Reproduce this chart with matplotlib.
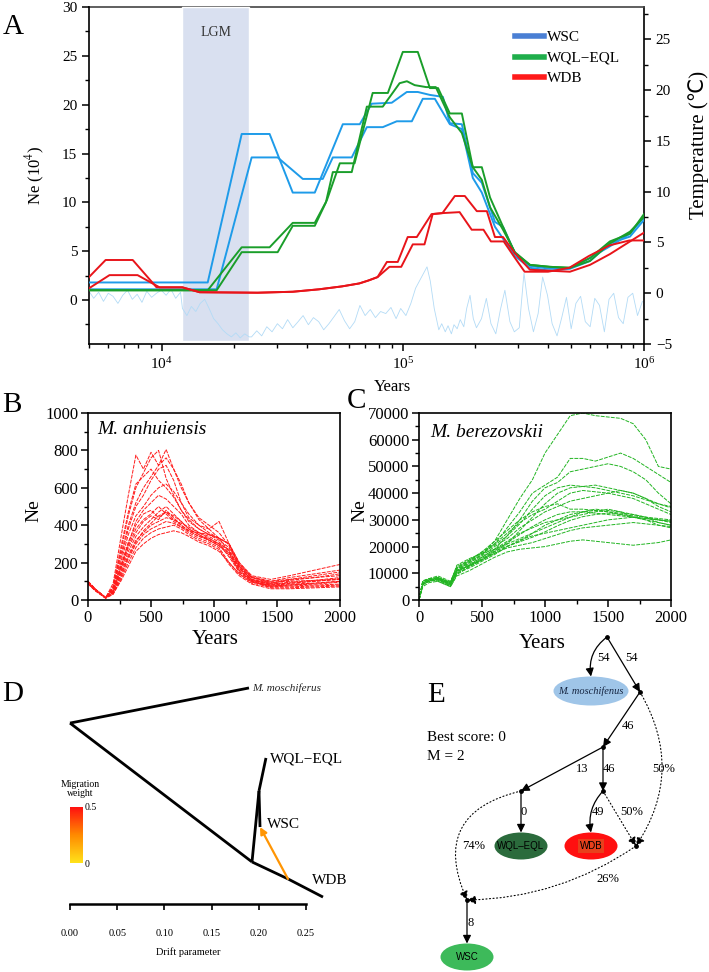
import numpy as np
import matplotlib
matplotlib.use('Agg')
import matplotlib.pyplot as plt
from matplotlib.lines import Line2D
from matplotlib.patches import Ellipse, FancyArrowPatch, Rectangle
from matplotlib.colors import LinearSegmentedColormap, Normalize
from matplotlib.cm import ScalarMappable
from matplotlib.ticker import MultipleLocator, FormatStrFormatter, LogLocator, NullFormatter

plt.rcParams['font.family'] = ['Liberation Serif', 'DejaVu Sans']
plt.rcParams['mathtext.fontset'] = 'stix'

# ---------------- panel A data (PSMC, years vs Ne x 10^4) ----------------
wsc_a_years = [5000, 15530, 21480, 28040, 34970, 43160, 56400, 66310, 74340, 90000, 103900, 115400, 129500, 146600,
               156700, 175700, 195100, 212600, 241000, 260300, 291600, 336600, 407000, 493000, 597000, 722000, 875000, 1000000]
wsc_a_ne = [1.8, 1.8, 17.0, 17.0, 11.0, 11.0, 18.0, 18.0, 20.1, 20.2, 21.3, 21.3, 21.0, 20.8,
            18.1, 18.0, 13.0, 12.0, 8.0, 7.5, 4.8, 3.5, 3.2, 3.3, 4.3, 5.5, 6.8, 8.5]
wsc_b_years = [5000, 16910, 23620, 30280, 38490, 46580, 51270, 61420, 70940, 82600, 94400, 109000, 121000, 135800,
               156700, 175700, 195100, 212600, 241000, 291600, 336600, 407000, 493000, 597000, 722000, 875000, 1000000]
wsc_b_ne = [1.1, 1.1, 14.6, 14.6, 12.4, 12.4, 14.6, 14.6, 17.7, 17.7, 18.3, 18.3, 20.6, 20.6,
            18.0, 17.5, 12.5, 11.0, 7.5, 4.5, 3.3, 3.0, 3.2, 4.0, 5.8, 6.5, 8.2]
wql_a_years = [5000, 15530, 21480, 28040, 34970, 43160, 48400, 54800, 63100, 75000, 86700, 100000, 115400, 129500,
               140000, 156700, 175700, 195100, 212600, 230000, 260300, 291600, 336600, 407000, 493000, 597000,
               722000, 875000, 1000000]
wql_a_ne = [1.0, 1.0, 5.4, 5.4, 7.9, 7.9, 10.2, 14.0, 14.0, 21.2, 21.2, 25.4, 25.4, 21.7,
            21.7, 19.1, 19.1, 13.6, 13.6, 10.5, 7.5, 4.8, 3.6, 3.4, 3.3, 4.3, 6.0, 6.8, 8.8]
wql_b_years = [5000, 16910, 21480, 30280, 34970, 43160, 48000, 51270, 61420, 70940, 82600, 97000, 104000, 112000,
               125000, 137000, 156700, 175700, 195100, 212600, 230000, 260300, 291600, 336600, 407000, 493000,
               597000, 722000, 875000, 1000000]
wql_b_ne = [1.0, 1.0, 4.9, 4.9, 7.6, 7.6, 10.0, 13.1, 13.1, 19.8, 19.8, 22.2, 22.4, 22.0,
            21.8, 21.8, 18.7, 17.1, 13.6, 12.3, 9.5, 7.2, 4.9, 3.6, 3.4, 3.3, 4.0, 5.8, 7.0, 8.5]
wdb_a_years = [5000, 5860, 7590, 9530, 12200, 14380, 25000, 35000, 45000, 56000, 66000, 72000, 78600, 85900,
               95300, 104800, 114300, 131600, 146000, 164300, 180800, 202700, 223100, 241000, 260300, 291600,
               336600, 407000, 493000, 597000, 722000, 875000, 1000000]
wdb_a_ne = [2.35, 4.1, 4.1, 1.3, 1.3, 0.8, 0.75, 0.85, 1.1, 1.4, 1.7, 2.0, 2.35, 3.9,
            3.9, 6.45, 6.45, 8.8, 8.9, 10.65, 10.65, 9.1, 9.1, 6.45, 6.45, 4.8, 3.1, 3.0, 2.9, 3.6, 4.7, 6.0, 6.9]
wdb_b_years = [5000, 6080, 7950, 9810, 12200, 14380, 25000, 35000, 45000, 56000, 66000, 72000, 78600, 88000,
               98500, 110000, 123000, 133000, 146000, 172000, 193000, 216000, 232000, 262000, 290000, 320000,
               400000, 490000, 590000, 720000, 870000, 1000000]
wdb_b_ne = [1.2, 2.55, 2.55, 1.3, 1.3, 0.8, 0.75, 0.85, 1.1, 1.4, 1.7, 2.0, 2.35, 3.4,
            3.4, 5.7, 5.7, 8.8, 8.9, 9.0, 7.2, 7.2, 6.0, 6.0, 4.4, 2.9, 2.9, 3.3, 4.5, 5.6, 6.1, 6.1]

# surface temperature (right axis)
temp_years = [5000, 5230, 5480, 5740, 6010, 6290, 6590, 6900, 7220, 7560, 7920, 8290, 8680, 9090, 9520, 9970,
              10440, 10930, 11440, 11980,
              12200, 12730, 13280, 13860, 14460, 15090, 15740, 16430, 17140, 17880, 18660, 19470, 20310, 21190,
              22110, 23070,
              23600, 24800, 26000, 27300, 28700, 30200, 31700, 33300, 35000, 36800, 38600, 40600, 42600, 44800,
              47000, 49400, 51900, 54500, 57300, 60200, 63200, 66400, 69800, 73300, 77000, 80900, 85000, 89300, 93800,
              98000, 103000, 108000, 113000, 119000, 126000, 130000, 135000, 141000,
              145000, 150000, 154000, 159000, 163000, 168000, 173000, 179000, 184000, 190000, 196000, 202000,
              212000, 222000, 232000, 243000, 254000, 265000, 278000, 290000, 304000, 318000, 332000, 348000, 364000,
              380000, 398000, 416000, 436000, 456000, 477000, 499000, 522000, 546000, 571000, 598000, 625000, 654000,
              685000, 716000, 749000, 784000, 820000, 858000, 898000, 940000, 985000]
temp_c = [0.2, -0.5, 0.1, -0.8, 0.0, -0.3, -1.0, -0.2, 0.3, -0.6, -0.1, -0.9, 0.2, -0.4, 0.0, 0.3,
          -0.2, 0.4, -0.5, 0.1,
          -1.5, -2.2, -1.3, -1.8, -1.0, -0.6, -1.5, -2.5, -3.0, -3.6, -4.0, -4.3, -3.9, -4.4, -4.0, -4.3,
          -4.3, -3.7, -4.2, -3.3, -3.8, -3.0, -3.5, -2.6, -3.4, -2.8, -2.2, -3.1, -2.4, -2.8,
          -3.6, -3.0, -2.3, -1.6, -2.7, -3.5, -2.8, -1.2, -2.2, -1.6, -2.4, -1.8, -2.0, -1.4, -2.5,
          -1.5, -2.2, -1.0, 0.5, 1.5, 2.6, 1.2, -1.5, -3.6,
          -3.0, -3.8, -3.2, -4.0, -3.1, -3.5, -2.6, -3.3, -1.5, -0.2, -2.5, -3.4,
          -2.5, -0.5, -3.0, -4.0, -1.6, 0.3, -2.8, -3.8, -3.4, 2.0, -1.5, -3.8, -2.0,
          1.6, -0.2, -3.0, -4.2, -2.4, -0.4, -3.5, -1.0, -0.3, -2.8, -3.3, -0.5, -1.2,
          -3.8, -0.6, 0.0, -2.4, -3.0, -0.4, 0.0, -2.2, -0.8]
lgm = (12200, 23100)

# ---------------- panel B / C data ----------------
b_years = [0, 60, 140, 200, 260, 320, 380, 440, 500, 560, 620, 680, 740, 800, 880, 960, 1040, 1120, 1200,
           1300, 1450, 1600, 1800, 2000]
b_ne = [
    [98, 55, 12, 90, 330, 560, 775, 700, 790, 720, 805, 700, 600, 520, 430, 380, 330, 260, 180, 120, 100, 120, 140, 160],
    [92, 52, 10, 70, 260, 450, 600, 680, 760, 800, 650, 560, 480, 420, 380, 350, 320, 280, 190, 120, 90, 110, 130, 150],
    [100, 58, 14, 60, 220, 380, 500, 560, 640, 700, 720, 640, 520, 440, 400, 360, 330, 300, 200, 130, 110, 130, 160, 190],
    [88, 50, 11, 50, 180, 300, 420, 480, 520, 560, 540, 500, 460, 400, 360, 330, 300, 250, 170, 110, 80, 85, 90, 100],
    [95, 54, 12, 40, 150, 260, 340, 390, 430, 470, 500, 460, 420, 380, 350, 320, 290, 240, 160, 100, 75, 80, 85, 95],
    [90, 50, 10, 45, 160, 280, 360, 420, 450, 430, 480, 440, 400, 370, 340, 320, 300, 230, 150, 100, 70, 70, 75, 80],
    [96, 56, 13, 35, 120, 220, 300, 350, 380, 400, 420, 410, 390, 360, 330, 310, 280, 200, 140, 95, 80, 90, 100, 115],
    [85, 48, 10, 30, 110, 200, 280, 330, 360, 380, 390, 400, 380, 350, 320, 300, 270, 190, 130, 85, 60, 60, 65, 70],
    [100, 57, 12, 55, 200, 350, 450, 500, 560, 600, 620, 580, 520, 460, 400, 380, 420, 300, 190, 120, 95, 100, 105, 110],
    [93, 53, 11, 40, 140, 240, 320, 360, 400, 420, 440, 430, 410, 390, 360, 350, 330, 300, 180, 105, 85, 95, 105, 120],
    [90, 51, 10, 35, 100, 180, 260, 300, 330, 350, 360, 370, 360, 340, 310, 290, 260, 200, 140, 90, 70, 75, 80, 85],
    [97, 55, 12, 65, 240, 400, 520, 600, 660, 720, 760, 700, 620, 520, 440, 400, 360, 290, 180, 110, 90, 105, 120, 140],
    [89, 50, 11, 50, 170, 290, 380, 430, 460, 500, 460, 420, 390, 370, 360, 340, 310, 260, 160, 105, 75, 80, 90, 100],
    [94, 53, 12, 45, 180, 310, 400, 460, 480, 440, 470, 430, 400, 370, 340, 330, 300, 270, 170, 110, 85, 90, 100, 110],
    [99, 56, 13, 75, 280, 470, 620, 660, 700, 640, 600, 550, 480, 430, 380, 350, 330, 300, 200, 125, 100, 110, 120, 130],
    [91, 52, 11, 38, 130, 230, 310, 370, 410, 450, 470, 450, 420, 380, 350, 320, 290, 250, 150, 100, 65, 65, 70, 75],
]

c_years = [0, 30, 80, 150, 250, 300, 400, 500, 600, 700, 800, 900, 1000, 1100, 1200, 1300, 1400, 1500, 1600,
           1700, 1800, 1900, 2000]
c_ne = [
    [0, 6500, 7500, 8000, 6000, 11000, 14000, 17000, 22000, 30000, 38000, 45000, 55000, 62000, 69000, 70000, 69000, 68500, 68000, 66000, 60000, 50000, 49000],
    [0, 6000, 7000, 8500, 6500, 12000, 14500, 18000, 21000, 27000, 33000, 40000, 43000, 46000, 53000, 53000, 52000, 53500, 55000, 53000, 50000, 47000, 44000],
    [0, 7000, 8000, 8000, 5500, 10500, 13000, 16000, 19000, 24000, 30000, 37000, 42000, 44000, 48000, 49000, 50000, 51000, 50000, 48000, 45000, 40000, 36000],
    [0, 5500, 7500, 7000, 5000, 9500, 12500, 15000, 18000, 21000, 26000, 31000, 36000, 40000, 42000, 42500, 43000, 42000, 41000, 40000, 38000, 35000, 33000],
    [0, 6500, 7000, 8000, 6000, 11500, 14000, 16500, 20000, 23000, 27000, 30000, 33000, 35000, 37000, 38000, 39000, 40000, 41000, 40000, 38000, 36000, 35000],
    [0, 7000, 8000, 9000, 7000, 12000, 15000, 18000, 22000, 26000, 30000, 33000, 35000, 36000, 34000, 34000, 33500, 33000, 32500, 32000, 31000, 30000, 29000],
    [0, 6000, 7500, 7500, 5500, 10000, 12000, 14500, 17000, 20000, 22000, 25000, 28000, 30000, 32000, 33000, 33500, 33000, 32000, 31500, 31000, 30500, 30000],
    [0, 5000, 6500, 7000, 5000, 9000, 11000, 13500, 16000, 18000, 19000, 19500, 20000, 21000, 22000, 22500, 22000, 21500, 21000, 20500, 21000, 21500, 22500],
    [0, 6500, 7200, 8200, 6200, 11000, 13500, 16000, 19000, 22000, 25000, 27000, 29000, 30000, 31000, 32000, 33000, 34000, 33000, 31000, 30000, 28000, 27000],
    [0, 7200, 8000, 8500, 6500, 13000, 15500, 17500, 19000, 21000, 23000, 25000, 27000, 29000, 31000, 33000, 34000, 33500, 33000, 32000, 31000, 29000, 28000],
    [0, 6000, 7000, 7800, 6000, 10500, 13000, 15000, 17500, 19500, 20500, 21500, 23000, 24500, 26000, 27000, 27500, 28000, 28500, 29000, 28500, 28000, 27500],
    [0, 6800, 7600, 8300, 6300, 11500, 14500, 17000, 21000, 25000, 29000, 32000, 34000, 37000, 40000, 41000, 40500, 40000, 39000, 38000, 36000, 34000, 32000],
    [0, 5800, 7000, 7500, 5200, 10000, 12500, 15000, 17500, 20000, 22500, 24000, 25000, 26000, 27000, 28000, 29000, 30000, 30500, 31000, 30500, 30000, 29500],
    [0, 6200, 7400, 8100, 5800, 11000, 13000, 15500, 18500, 21500, 24500, 27500, 30000, 32000, 33000, 33000, 32500, 32000, 31500, 31000, 30000, 29000, 28000],
    [0, 7000, 7700, 8000, 6800, 12500, 15000, 17500, 20500, 24000, 28500, 34000, 39000, 42000, 43000, 42500, 42000, 41000, 40000, 39000, 37500, 36000, 34500],
    [0, 6400, 7300, 7600, 6000, 10800, 12800, 15200, 18200, 20200, 21800, 23500, 25500, 27800, 29800, 31200, 32000, 32500, 32000, 31000, 30500, 30000, 29500],
]

# ---------------- panel D data (TreeMix) ----------------
# x = drift parameter, y = vertical layout row
d_nodes = {'root': (0.0, 7.57), 'mos': (0.1896, 9.04), 'split': (0.1928, 1.76), 'mig': (0.2309, 1.05),
           'WDB': (0.268, 0.29), 'qs': (0.2002, 4.73), 'WQL-EQL': (0.2076, 6.11), 'WSC': (0.2013, 3.22)}
d_edges = [('root', 'mos'), ('root', 'split'), ('split', 'mig'), ('mig', 'WDB'),
           ('split', 'qs'), ('qs', 'WQL-EQL'), ('qs', 'WSC')]
d_labels = {'mos': ('M. moschiferus', (2, 0), 'italic', 8), 'WQL-EQL': ('WQL\u2212EQL', (3, -1), 'normal', 11),
            'WSC': ('WSC', (5, 2), 'normal', 11), 'WDB': ('WDB', (-8, 12), 'normal', 11)}
d_migration = ('mig', 'WSC', 0.22)

# ---------------- panel E data (qpGraph) ----------------
e_nodes = {'root': (207, 12), 'A': (240, 67), 'B': (203, 122), 'C': (121, 166), 'D': (203, 166),
           'E': (236, 221), 'F': (67, 275)}
e_leaves = {'M. moschifenus': (191, 66, 75, 29, '#9fc5e8'), 'WQL-EQL': (121, 221, 53, 27, '#2b6b3c'),
            'WDB': (191, 221, 53, 27, '#ff1010'), 'WSC': (67, 332, 53, 27, '#3dba5a')}
# (from, to, label, label position, curvature, dotted)
e_edges = [('root', 'M. moschifenus', '54', (204, 33), 0.3, False),
           ('root', 'A', '54', (231, 33), 0.0, False),
           ('A', 'B', '46', (228, 101), 0.0, False),
           ('B', 'C', '13', (182, 144), 0.0, False),
           ('B', 'D', '46', (209, 144), 0.0, False),
           ('C', 'WQL-EQL', '0', (124, 187), 0.0, False),
           ('D', 'WDB', '49', (198, 187), 0.25, False),
           ('D', 'E', '50%', (232, 187), 0.0, True),
           ('A', 'E', '50%', (264, 144), -0.31, True),
           ('C', 'F', '74%', (74, 221), 0.6, True),
           ('E', 'F', '26%', (208, 254), -0.15, True),
           ('F', 'WSC', '8', (71, 298), 0.0, False)]

W, H = 709, 972


def box(left, top, right, bottom):
    # pixel box -> figure rect
    return [left / W, 1 - bottom / H, (right - left) / W, (bottom - top) / H]


def ftext(x, y, s, **kw):
    fig.text(x / W, 1 - y / H, s, **kw)


fig = plt.figure(figsize=(7.09, 9.72), dpi=100)

# ======================= A =======================
axA = fig.add_axes(box(89, 7, 644, 344))
axT = axA.twinx()
axA.set_zorder(axT.get_zorder() + 1)
axA.patch.set_visible(False)

axT.axvspan(lgm[0], lgm[1], ymin=0.008, ymax=1.0, facecolor='#d9e0f0', edgecolor='white', lw=1.0,
            zorder=2.6, clip_on=False)
axT.plot(temp_years, temp_c, color='#b3dbf6', lw=0.6, zorder=2.7)
axT.set_ylim(-5, 28.2)

blue, green, red = '#1e9be9', '#1a9e2a', '#e8141a'
for yrs, ne, c in [(wsc_a_years, wsc_a_ne, blue), (wsc_b_years, wsc_b_ne, blue),
                   (wql_a_years, wql_a_ne, green), (wql_b_years, wql_b_ne, green),
                   (wdb_a_years, wdb_a_ne, red), (wdb_b_years, wdb_b_ne, red)]:
    axA.plot(yrs, ne, color=c, lw=1.4, zorder=3)

axA.set_xscale('log')
axA.set_xlim(5000, 1e6)
axA.set_ylim(-4.5, 30)
axA.yaxis.set_major_locator(MultipleLocator(5))
axA.yaxis.set_minor_locator(MultipleLocator(2.5))
axT.yaxis.set_major_locator(MultipleLocator(5))
axT.yaxis.set_minor_locator(MultipleLocator(2.5))
axA.xaxis.set_major_locator(LogLocator(base=10))
axA.xaxis.set_minor_locator(LogLocator(base=10, subs=range(2, 10)))
axA.xaxis.set_minor_formatter(NullFormatter())

for a in (axA, axT):
    a.tick_params(which='major', direction='out', length=5, width=1.1, labelsize=11)
    a.tick_params(which='minor', direction='out', length=3, width=1.0)
axA.spines['top'].set_visible(False)
axA.spines['right'].set_visible(False)
axT.spines['left'].set_visible(False)
axT.spines['bottom'].set_visible(False)
axT.spines['top'].set_color('#444444')
for a in (axA, axT):
    for s in a.spines.values():
        s.set_linewidth(1.2)

axA.text((lgm[0] * lgm[1]) ** 0.5, 27.4, 'LGM', ha='center', va='center', fontsize=10, color='#333333')
axA.set_ylabel('Ne (10$^4$)', fontsize=12)
axA.yaxis.set_label_coords(-0.075, 0.5)
axA.set_xlabel('Years', fontsize=12)
axA.xaxis.set_label_coords(0.546, -0.105)
axT.set_ylabel('Temperature (\u2103)', fontsize=15)
axT.yaxis.set_label_coords(1.08, 0.59)

handles = [Line2D([], [], color='#4a7fd4', lw=4), Line2D([], [], color='#1fae4b', lw=4),
           Line2D([], [], color='#ff1a1a', lw=4)]
axA.legend(handles, ['WSC', 'WQL\u2212EQL', 'WDB'], loc='upper left', bbox_to_anchor=(0.768, 0.93),
           frameon=False, fontsize=11, handlelength=1.9, handletextpad=0.15, labelspacing=0.45,
           borderpad=0, borderaxespad=0)

# ======================= B =======================
axB = fig.add_axes(box(88, 413, 340, 600))
for ys in b_ne:
    axB.plot(b_years, ys, color='#ff1a1a', lw=0.7, ls=(0, (4, 1.2)))
axB.set_xlim(0, 2000)
axB.set_ylim(0, 1000)
axB.xaxis.set_major_locator(MultipleLocator(500))
axB.xaxis.set_minor_locator(MultipleLocator(250))
axB.yaxis.set_major_locator(MultipleLocator(200))
axB.yaxis.set_minor_locator(MultipleLocator(100))
axB.text(0.035, 0.91, 'M. anhuiensis', transform=axB.transAxes, fontsize=14, style='italic', va='center')
axB.set_ylabel('Ne', fontsize=14)
axB.yaxis.set_label_coords(-0.18, 0.48)

# ======================= C =======================
axC = fig.add_axes(box(419, 413, 671, 600))
for ys in c_ne:
    axC.plot(c_years, ys, color='#22b522', lw=0.7, ls=(0, (4, 1.2)))
axC.set_xlim(0, 2000)
axC.set_ylim(0, 70000)
axC.xaxis.set_major_locator(MultipleLocator(500))
axC.xaxis.set_minor_locator(MultipleLocator(250))
axC.yaxis.set_major_locator(MultipleLocator(10000))
axC.yaxis.set_minor_locator(MultipleLocator(5000))
axC.text(0.045, 0.895, 'M. berezovskii', transform=axC.transAxes, fontsize=14, style='italic', va='center')
axC.set_ylabel('Ne', fontsize=14)
axC.yaxis.set_label_coords(-0.2, 0.48)

for a in (axB, axC):
    a.tick_params(which='major', direction='out', length=5, width=1.1, labelsize=12, pad=2)
    a.tick_params(which='minor', direction='out', length=3, width=1.0)
    for s in a.spines.values():
        s.set_linewidth(1.2)
    a.set_xlabel('Years', fontsize=15)
axB.xaxis.set_label_coords(0.504, -0.16)
axC.xaxis.set_label_coords(0.488, -0.18)

# ======================= D =======================
axD = fig.add_axes(box(70, 665, 306, 904))
axD.set_xlim(0, 0.25)
axD.set_ylim(0, 10)
for a_, b_ in d_edges:
    (x0, y0), (x1, y1) = d_nodes[a_], d_nodes[b_]
    axD.plot([x0, x1], [y0, y1], color='black', lw=2, clip_on=False, solid_capstyle='butt')
for key, (txt, off, sty, fs) in d_labels.items():
    axD.annotate(txt, d_nodes[key], xytext=off, textcoords='offset points', fontsize=fs, style=sty,
                 va='center', ha='left', color='#222222' if sty == 'italic' else 'black', annotation_clip=False)
src, dst, w = d_migration
mig_cmap = LinearSegmentedColormap.from_list('mig', ['#ffe21a', '#ff8a00', '#ff1010'])
axD.annotate('', xy=d_nodes[dst], xytext=d_nodes[src],
             arrowprops=dict(arrowstyle='-|>', color=mig_cmap(w / 0.5), lw=1.6, mutation_scale=10,
                             shrinkA=0, shrinkB=0), annotation_clip=False)
for s in ('top', 'right', 'left'):
    axD.spines[s].set_visible(False)
axD.spines['bottom'].set_linewidth(1.8)
axD.set_yticks([])
axD.xaxis.set_major_locator(MultipleLocator(0.05))
axD.xaxis.set_major_formatter(FormatStrFormatter('%.2f'))
axD.tick_params(axis='x', direction='out', length=4, width=1.2, labelsize=7.5, pad=14)
axD.set_xlabel('Drift parameter', fontsize=7.5, labelpad=7)
axD.patch.set_visible(False)

cax = fig.add_axes(box(70, 807, 83, 863))
cb = fig.colorbar(ScalarMappable(norm=Normalize(0, 0.5), cmap=mig_cmap), cax=cax)
cb.outline.set_visible(False)
cb.set_ticks([0, 0.5])
cb.set_ticklabels(['0', '0.5'])
cax.tick_params(length=0, labelsize=7, pad=1)
ftext(80, 789, 'Migration\nweight', fontsize=7, ha='center', va='center', linespacing=1.1)

# ======================= E =======================
axE = fig.add_axes(box(400, 625, 709, 972))
axE.set_xlim(0, 309)
axE.set_ylim(347, 0)
axE.axis('off')


def e_point(name):
    if name in e_leaves:
        cx, cy, w_, h_, _ = e_leaves[name]
        return (cx, cy - h_ / 2)
    return e_nodes[name]


for a_, b_, lab, lpos, rad, dotted in e_edges:
    arr = FancyArrowPatch(e_point(a_), e_point(b_), connectionstyle='arc3,rad=%s' % rad,
                          arrowstyle='-|>', mutation_scale=13 if dotted else 12, lw=0.8 if dotted else 0.9,
                          color='black', linestyle=(0, (1, 2.2)) if dotted else '-', shrinkA=0, shrinkB=0)
    axE.add_patch(arr)
    axE.text(lpos[0], lpos[1], lab, fontsize=9, ha='center', va='center')

for name, (cx, cy, w_, h_, col) in e_leaves.items():
    axE.add_patch(Ellipse((cx, cy), w_, h_, facecolor=col, edgecolor='none', zorder=3))
    if name == 'WDB':
        axE.add_patch(Rectangle((cx - 13, cy - 7), 26, 14, facecolor='#e8401c', edgecolor='none', zorder=3.5))
    if name.startswith('M.'):
        axE.text(cx, cy, name, fontsize=7.5, style='italic', ha='center', va='center', color='#14233f', zorder=4)
    else:
        axE.text(cx, cy, name.replace('-', '\u2013'), fontsize=7, family='Liberation Sans', ha='center',
                 va='center', color='black', zorder=4)

nx = [p[0] for p in e_nodes.values()]
ny = [p[1] for p in e_nodes.values()]
axE.scatter(nx, ny, s=6, color='black', zorder=5)
axE.text(27, 112, 'Best score: 0', fontsize=11, va='center')
axE.text(27, 131, 'M = 2', fontsize=11, va='center')

# panel letters
for lt, (x, y) in {'A': (13, 27), 'B': (12, 405), 'C': (357, 401), 'D': (13, 694), 'E': (436, 695)}.items():
    ftext(x, y, lt, fontsize=21, ha='center', va='center')

fig.savefig('out.png', dpi=100)
